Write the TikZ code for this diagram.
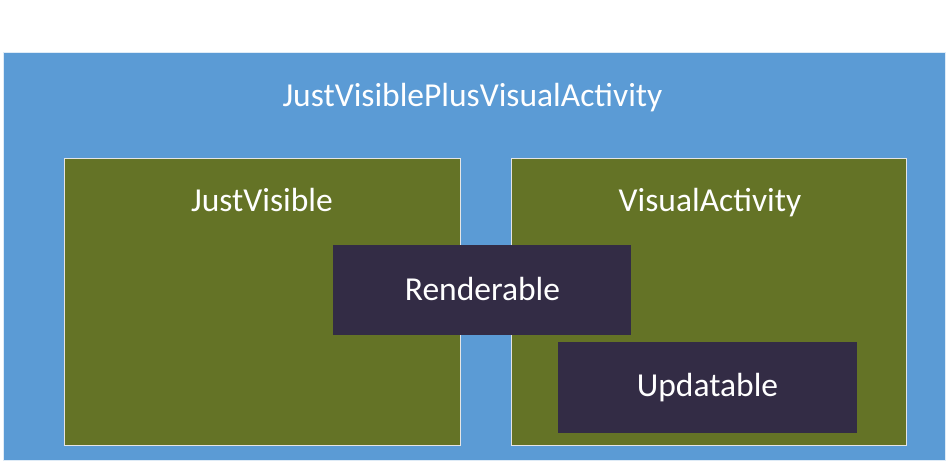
\documentclass[tikz,border=0pt]{standalone}
\usepackage{fontspec}
\setmainfont{Carlito}
\definecolor{outerblue}{HTML}{5B9BD5}
\definecolor{olive}{HTML}{647326}
\definecolor{darkbox}{HTML}{332C45}
\begin{document}
\begin{tikzpicture}[x=1pt,y=-1pt,
  outer/.style={fill=outerblue,draw=white!80!outerblue,line width=1pt},
  greenbox/.style={fill=olive,draw=white!80!gray,line width=1pt},
  darkrect/.style={fill=darkbox,draw=none},
  lbl/.style={text=white,font=\fontsize{33.5}{40}\selectfont,inner sep=0pt,anchor=base}]
\useasboundingbox (0,0) rectangle (948,463);
\fill[white] (0,0) rectangle (948,463);
\draw[outer] (3,52.5) rectangle (945,460.5);
\node[lbl] (title) at (472.5,106) {JustVisiblePlusVisualActivity};
\draw[greenbox] (64,158) rectangle (460,445);
\node[lbl] (jv) at (262,211.5) {JustVisible};
\draw[greenbox] (511,158) rectangle (906.5,445);
\node[lbl] (va) at (710,211.5) {VisualActivity};
\fill[darkrect] (333,245) rectangle (631,334.5);
\node[lbl] (rend) at (482.5,300) {Renderable};
\fill[darkrect] (558,342) rectangle (857,432.5);
\node[lbl] (upd) at (707.5,396.5) {Updatable};
\end{tikzpicture}
\end{document}
